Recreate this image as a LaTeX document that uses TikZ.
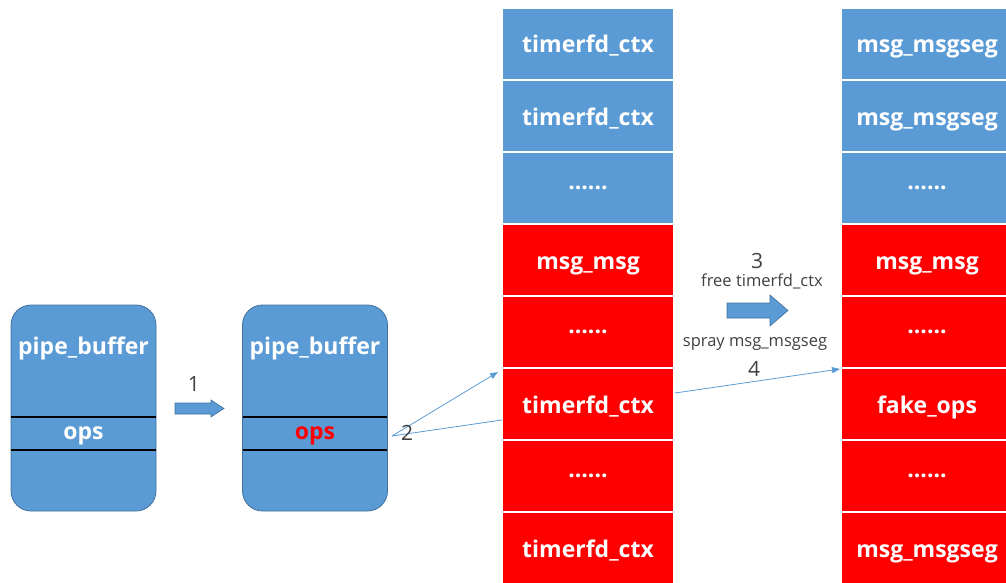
\documentclass[tikz,border=0pt]{standalone}
\usepackage{fontspec}
\setmainfont{Open Sans}
\usetikzlibrary{arrows.meta}
\definecolor{cblue}{HTML}{5B9BD5}
\definecolor{cborder}{HTML}{41719C}
\definecolor{cred}{HTML}{FF0000}
\definecolor{ctext}{HTML}{404040}
\begin{document}
\begin{tikzpicture}[x=1pt,y=-1pt,
 cellbase/.style={draw=white, line width=1.2pt, minimum width=172pt, minimum height=72pt, inner sep=0, text=white, font=\bfseries\fontsize{23}{26}\selectfont},
 cell/.style={cellbase, text height=18pt, text depth=0pt},
 bluecell/.style={cell, fill=cblue},
 redcell/.style={cell, fill=cred},
 bluedots/.style={cellbase, fill=cblue},
 reddots/.style={cellbase, fill=cred},
 pbuf/.style={draw=cborder, fill=cblue, rounded corners=20pt, line width=0.8pt, minimum width=145pt, minimum height=206pt, inner sep=0},
 pbtext/.style={text=white, font=\bfseries\fontsize{23}{26}\selectfont, inner sep=0, anchor=base},
 sepline/.style={line width=1.2pt, black},
 blockarrow/.style={draw=cborder, fill=cblue, line width=0.6pt},
 thinline/.style={draw=cblue, line width=0.8pt},
 thinarrow/.style={thinline, -{Triangle[length=8pt,width=6pt]}},
 num/.style={text=ctext, font=\fontsize{21}{23}\selectfont, inner sep=0},
 lbl/.style={text=ctext, font=\fontsize{16.5}{18}\selectfont, inner sep=0}]
\clip (0,0) rectangle (1006,583);
% middle column
\node[bluecell] (a1) at (588,44) {timerfd\_ctx};
\node[bluecell] (a2) at (588,116) {timerfd\_ctx};
\node[bluedots] (a3) at (588,188) {......};
\node[redcell] (a4) at (588,260) {msg\_msg};
\node[reddots] (a5) at (588,332) {......};
\node[redcell] (a6) at (588,404) {timerfd\_ctx};
\node[reddots] (a7) at (588,476) {......};
\node[redcell] (a8) at (588,548) {timerfd\_ctx};
% right column
\node[bluecell] (b1) at (927,44) {msg\_msgseg};
\node[bluecell] (b2) at (927,116) {msg\_msgseg};
\node[bluedots] (b3) at (927,188) {......};
\node[redcell] (b4) at (927,260) {msg\_msg};
\node[reddots] (b5) at (927,332) {......};
\node[redcell] (b6) at (927,404) {fake\_ops};
\node[reddots] (b7) at (927,476) {......};
\node[redcell] (b8) at (927,548) {msg\_msgseg};
% pipe buffers
\node[pbuf] (p1) at (83.5,408) {};
\draw[sepline] (11,417) -- (156,417);
\draw[sepline] (11,450) -- (156,450);
\node[pbtext] (t1) at (83.5,354) {pipe\_buffer};
\node[pbtext] (ops1) at (83.5,439) {ops};
\node[pbuf] (p2) at (315,408) {};
\draw[sepline] (243,417) -- (387,417);
\draw[sepline] (243,450) -- (387,450);
\node[pbtext] (t2) at (315,354) {pipe\_buffer};
\node[pbtext, text=cred] (ops2) at (315,439) {ops};
% block arrow 1
\draw[blockarrow] (175,403) -- (211,403) -- (211,400) -- (224,408.5) -- (211,417) -- (211,414) -- (175,414) -- cycle;
\node[num] (n1) at (194,384) {1};
% arrows 2
\coordinate (s2) at (392,436);
\coordinate (e2a) at (498,372);
\coordinate (e2b) at (502,420);
\draw[thinarrow] (s2) -- (e2a);
\draw[thinline] (s2) -- (e2b);
\node[num] (n2) at (407,433) {2};
% block arrow 3
\draw[blockarrow] (727,303) -- (770,303) -- (770,295) -- (788,310.5) -- (770,326) -- (770,318) -- (727,318) -- cycle;
\node[num] (n3) at (757,261) {3};
\node[lbl] (l3) at (762,281) {free timerfd\_ctx};
\node[lbl] (l4) at (755,344) {spray msg\_msgseg};
\node[num] (n4) at (754,369) {4};
% arrow 4
\coordinate (s4) at (675,393);
\coordinate (e4) at (840,369);
\draw[thinarrow] (s4) -- (e4);
\end{tikzpicture}
\end{document}
